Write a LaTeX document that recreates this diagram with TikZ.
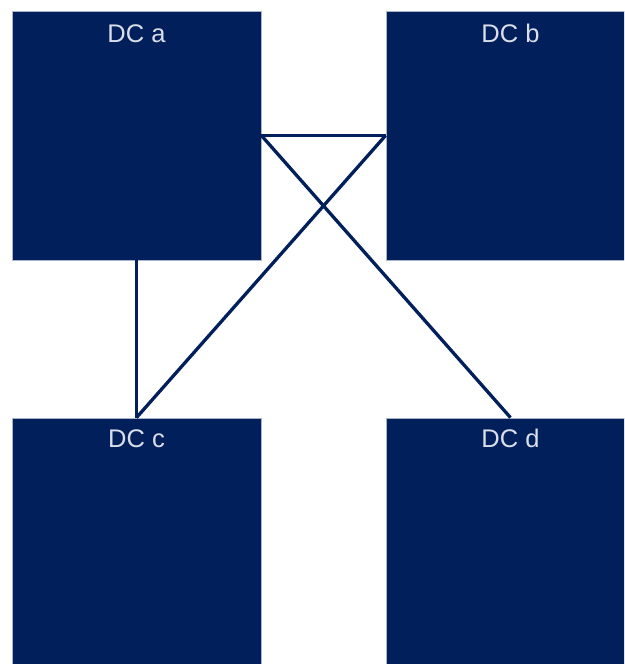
\documentclass[tikz,border=0pt]{standalone}
\usepackage{fontspec}
\setmainfont{Liberation Sans}
\definecolor{navy}{HTML}{001F5B}
\definecolor{lbltext}{HTML}{D9DEE8}
\definecolor{edge}{HTML}{A9B3C9}
\begin{document}
\begin{tikzpicture}[x=1pt,y=-1pt,
  dcbox/.style={rectangle,fill=navy,draw=edge,line width=0.8pt,minimum width=249pt,minimum height=249pt,inner sep=0pt},
  dclabel/.style={anchor=base,text=lbltext,font=\fontsize{25.5}{30}\selectfont,inner sep=0pt},
  link/.style={draw=navy,line width=3.3pt}]
\clip (0,0) rectangle (624,664);
\fill[white] (0,0) rectangle (624,664);
\node[dcbox] (a) at (136.5,135.5) {};
\node[dcbox] (b) at (510.5,135.5) {};
\node[dcbox] (c) at (136.5,542.5) {};
\node[dcbox] (d) at (510.5,542.5) {};
\node[dclabel] (la) at ([yshift=-32pt]a.north) {DC a};
\node[dclabel] (lb) at ([yshift=-32pt]b.north) {DC b};
\node[dclabel] (lc) at ([yshift=-30pt]c.north) {DC c};
\node[dclabel] (ld) at ([yshift=-30pt]d.north) {DC d};
\draw[link] (a.east) -- (b.west);
\draw[link] (a.east) -- (d.north);
\draw[link] (b.west) -- (c.north);
\draw[link] (a.south) -- (c.north);
\end{tikzpicture}
\end{document}
